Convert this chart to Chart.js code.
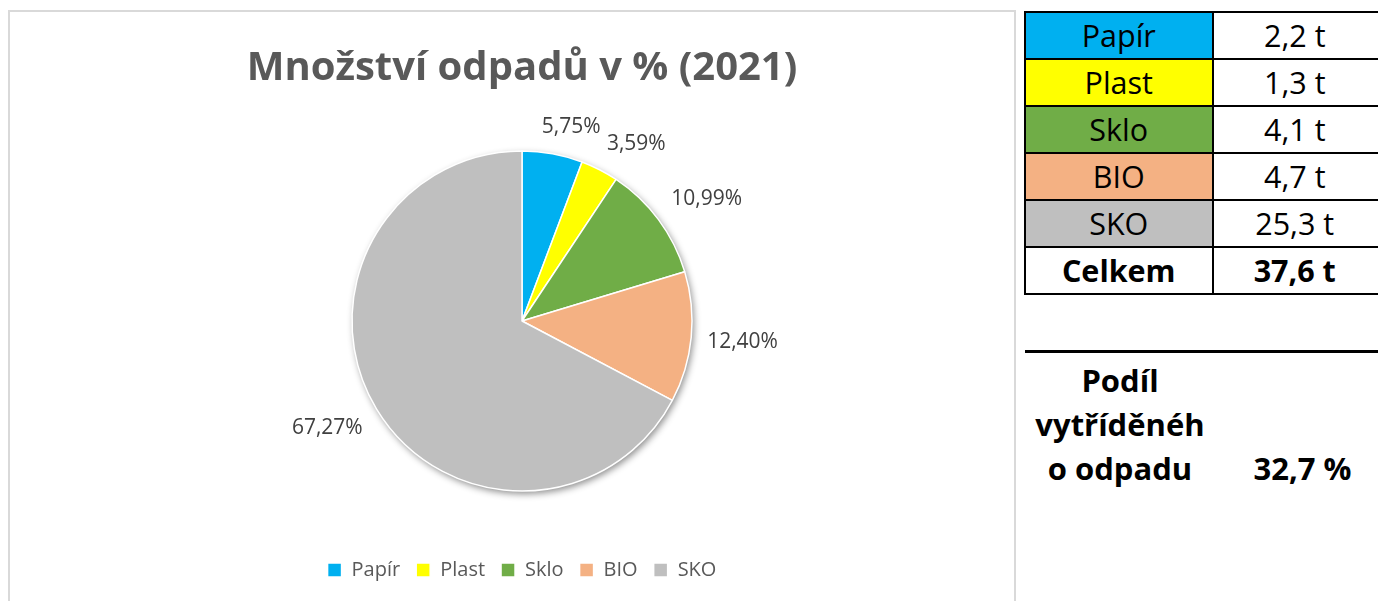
<!DOCTYPE html>
<html>
<head>
<meta charset="utf-8">
<script src="https://cdn.jsdelivr.net/npm/chart.js@4.4.1/dist/chart.umd.min.js"></script>
<style>
  html, body { margin: 0; padding: 0; background: #fff; width: 1378px; height: 601px; overflow: hidden; }
  #box { position: absolute; left: 8px; top: 10px; width: 1004px; height: 600px; border: 2px solid #d9d9d9; }
  #box canvas { display: block; }
  #tbl { position: absolute; left: 1024px; top: 11px; border-collapse: collapse; font-family: "Open Sans", sans-serif; font-size: 30.5px; color: #000; }
  #tbl td { border: 2.5px solid #000; height: 45px; padding: 0; text-align: center; line-height: 45px; }
  #share { position: absolute; left: 1025px; top: 350px; width: 360px; border-top: 3px solid #000; font-family: "Open Sans", sans-serif; font-weight: bold; font-size: 31px; }
  #share .c1 { position: absolute; left: 0; top: 5px; width: 190px; text-align: center; line-height: 44px; }
  #share .c2 { position: absolute; left: 190px; top: 93px; width: 175px; text-align: center; line-height: 44px; }
</style>
</head>
<body>
<div id="box"><canvas id="c" width="1004" height="589"></canvas></div>
<table id="tbl"></table>
<div id="share"><div class="c1" id="shareLabel"></div><div class="c2" id="shareValue"></div></div>
<script>
const categories = ["Papír", "Plast", "Sklo", "BIO", "SKO"];
const percentValues = [5.75, 3.59, 10.99, 12.40, 67.27];
const tonnes = [2.2, 1.3, 4.1, 4.7, 25.3];
const totalTonnes = 37.6;
const sortedShare = 32.7;
const colors = ["#00B0F0", "#FFFF00", "#70AD47", "#F4B183", "#BFBFBF"];
const titleText = "Množství odpadů v % (2021)";
const totalLabel = "Celkem";
const shareLabelLines = ["Podíl", "vytříděnéh", "o odpadu"];

const fmt = (v, d) => v.toFixed(d).replace('.', ',');

// table
const tbl = document.getElementById('tbl');
categories.forEach((c, i) => {
  const tr = document.createElement('tr');
  const a = document.createElement('td'); a.textContent = c; a.style.background = colors[i]; a.style.width = '188px';
  const b = document.createElement('td'); b.textContent = fmt(tonnes[i], 1) + ' t'; b.style.width = '166px'; b.style.borderRightColor = 'transparent';
  tr.appendChild(a); tr.appendChild(b); tbl.appendChild(tr);
});
{
  const tr = document.createElement('tr');
  const a = document.createElement('td'); a.textContent = totalLabel; a.style.fontWeight = 'bold';
  const b = document.createElement('td'); b.textContent = fmt(totalTonnes, 1) + ' t'; b.style.fontWeight = 'bold'; b.style.borderRightColor = 'transparent';
  tr.appendChild(a); tr.appendChild(b); tbl.appendChild(tr);
}
document.getElementById('shareLabel').innerHTML = shareLabelLines.join('<br>');
document.getElementById('shareValue').textContent = fmt(sortedShare, 1) + ' %';

const shadowPlugin = {
  id: 'pieShadow',
  beforeDatasetsDraw(chart) {
    const arc = chart.getDatasetMeta(0).data[0];
    if (!arc) return;
    const ctx = chart.ctx;
    ctx.save();
    ctx.shadowColor = 'rgba(0,0,0,0.45)';
    ctx.shadowBlur = 7;
    ctx.shadowOffsetX = 2;
    ctx.shadowOffsetY = 3;
    ctx.fillStyle = '#e0e0e0';
    ctx.beginPath();
    ctx.arc(arc.x, arc.y, arc.outerRadius, 0, Math.PI * 2);
    ctx.fill();
    ctx.restore();
  }
};

const labelPlugin = {
  id: 'outLabels',
  afterDatasetsDraw(chart) {
    const ctx = chart.ctx;
    const meta = chart.getDatasetMeta(0);
    const ds = chart.data.datasets[0];
    ctx.save();
    ctx.font = '21px "Open Sans"';
    ctx.fillStyle = '#404040';
    ctx.textAlign = 'center';
    ctx.textBaseline = 'middle';
    const clamp = v => Math.min(1, v);
    meta.data.forEach((arc, i) => {
      const mid = (arc.startAngle + arc.endAngle) / 2;
      const dx = Math.cos(mid), dy = Math.sin(mid);
      const txt = fmt(ds.data[i], 2) + '%';
      const w = ctx.measureText(txt).width;
      const h = 22;
      const r = arc.outerRadius + 16;
      const x = arc.x + dx * r + Math.sign(dx) * (w / 2) * clamp(Math.abs(dx) * 3);
      const y = arc.y + dy * r + Math.sign(dy) * (h / 2) * clamp(Math.abs(dy) * 3);
      ctx.fillText(txt, x, y);
    });
    ctx.restore();
  }
};

new Chart(document.getElementById('c'), {
  type: 'pie',
  data: {
    labels: categories,
    datasets: [{
      data: percentValues,
      backgroundColor: colors,
      borderColor: '#ffffff',
      borderWidth: 1.5,
      radius: 170
    }]
  },
  options: {
    responsive: false,
    animation: false,
    devicePixelRatio: 1,
    layout: { padding: { left: 20, bottom: 11 } },
    plugins: {
      title: {
        display: true,
        text: titleText,
        color: '#595959',
        font: { family: '"Open Sans"', size: 40, weight: 'bold', lineHeight: 1.2 },
        padding: { top: 33, bottom: 5 }
      },
      legend: {
        position: 'bottom',
        labels: {
          boxWidth: 14,
          boxHeight: 14,
          padding: 16,
          color: '#595959',
          font: { family: '"Open Sans"', size: 20 }
        }
      },
      tooltip: { enabled: false }
    }
  },
  plugins: [shadowPlugin, labelPlugin]
});
</script>
</body>
</html>
